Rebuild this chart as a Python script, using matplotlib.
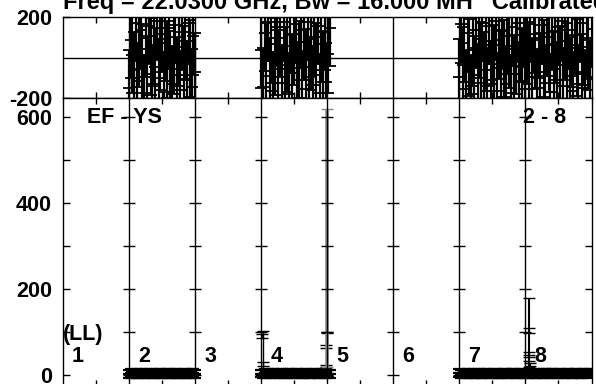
import numpy as np
import matplotlib
matplotlib.use("Agg")
import matplotlib.pyplot as plt

plt.rcParams['font.family'] = ['Liberation Sans', 'DejaVu Sans']
plt.rcParams['font.weight'] = 'bold'

# ---------------- data ----------------
title = "Freq = 22.0300 GHz, Bw = 16.000 MH'  Calibrated"
baseline_label = "EF - YS"
baseline_nums = "2 - 8"
pol_label = "(LL)"
panel_labels = ["1", "2", "3", "4", "5", "6", "7", "8"]

# scan blocks: (start, end) in sub-panel units
block_a_span = (1.0, 2.0)
block_b_span = (3.0, 4.04)
block_c_span = (6.0, 8.0)

phase_a = [-152, 87, 13, -64, 171, -118, 42, 135, -27, -176, 96, -83, 158, 4, -139,
           61, -45, 179, -101, 28, 117, -168, 73, -12, 144, -57, -131, 9, 162, -88,
           51, -160, 126, -34, 83, -109, 168, -3, -147, 104, -71]
phase_b = [38, -144, 121, -19, 175, -92, 66, -163, 7, 149, -55, 94, -127, 173, -38,
           21, -179, 112, -76, 55, 163, -112, -8, 138, -157, 79, -49, 177, -98, 31,
           -134, 102, -22, 157, -173, 69, -61, 128, -119, 16, 146]
phase_c = [-98, 164, -37, 71, -155, 119, 2, -179, 48, -86, 137, -124, 91, -15, 172,
           -63, 25, -142, 156, -109, 60, -31, 178, -167, 84, -52, 131, -7, -133, 107,
           40, -176, 149, -81, 12, 168, -119, 76, -45, 141, -158, 57, -24, 174, -94,
           115, 33, -149, 88, -70, 160, -5, -126, 99, 18, -171, 127, -58, 66, -111,
           152, -36, 179, -141, 81, -18, 134, -89, 46, -164, 109, -2, -129, 170, -74,
           54, -152, 94, 29, -105, 143]
phase_err = 190

amp_a = [3, 5, 2, 4, 6, 3, 2, 5, 4, 3, 6, 2, 4, 5, 3, 2, 4, 6, 3, 5, 2, 4, 3, 5, 6,
         2, 3, 4, 5, 3, 2, 6, 4, 3, 5, 2, 4, 3, 6, 5, 3]
amp_b = [4, 3, 5, 2, 6, 4, 3, 5, 2, 4, 6, 3, 5, 2, 4, 3, 6, 5, 2, 4, 3, 5, 4, 2, 6,
         3, 5, 4, 2, 3, 6, 4, 5, 3, 2, 4, 6, 3, 5, 4, 3]
amp_c = [5, 3, 4, 6, 2, 3, 5, 4, 2, 6, 3, 4, 5, 2, 3, 6, 4, 5, 3, 2, 4, 6, 3, 5, 2,
         4, 3, 6, 5, 2, 3, 4, 6, 5, 3, 2, 4, 5, 3, 6, 4, 2, 5, 3, 4, 6, 2, 3, 5, 4,
         3, 6, 2, 5, 4, 3, 5, 2, 6, 4, 3, 5, 4, 2, 3, 6, 5, 4, 2, 3, 5, 6, 4, 3, 2,
         5, 4, 6, 3, 5, 4]
amp_err = 9

# outlying amplitude points
spike_b_t = [3.015, 3.02, 3.03, 3.985, 3.99, 3.98]
spike_b_amp = [92, 50, 26, 67, 100, 22]
spike_b_err = [5, 52, 4, 4, 1, 3]
spike_big_t = [3.99]
spike_big_amp = [320]
spike_big_err = [300]
spike_c_t = [7.06, 7.055, 7.06, 7.05, 7.065]
spike_c_amp = [100, 104, 50, 38, 25]
spike_c_err = [80, 6, 4, 4, 3]

# ---------------- figure ----------------
W, H = 596, 384
fig = plt.figure(figsize=(W / 100, H / 100), dpi=100)
left, right = 63, 591.5
ax_ph = fig.add_axes([left / W, 1 - 98 / H, (right - left) / W, 81 / H])
ax_am = fig.add_axes([left / W, 1 - 386 / H, (right - left) / W, 288 / H])

nsub = len(panel_labels)
FS = 15.5


def block_times(span, vals):
    return np.linspace(span[0], span[1], len(vals))


ebkw = dict(fmt='none', ecolor='black', elinewidth=1.6, capsize=4.0, capthick=1.3)
ebkw_amp = dict(fmt='none', ecolor='black', elinewidth=2.2, capsize=4.0, capthick=1.6)

# phase panel
for span, vals in [(block_a_span, phase_a), (block_b_span, phase_b), (block_c_span, phase_c)]:
    t = block_times(span, vals)
    ax_ph.errorbar(t, vals, yerr=phase_err, **ebkw)
    ax_ph.plot(t, vals, ls='none', marker='_', ms=9, mew=1.3, color='black')

ax_ph.axhline(0, color='black', lw=1)
for k in range(1, nsub):
    ax_ph.axvline(k, color='black', lw=1)
ax_ph.set_xlim(0, nsub)
ax_ph.set_ylim(-200, 200)
ax_ph.set_yticks([-200, 200])
ax_ph.set_yticklabels(['-200', '200'], fontsize=FS, fontweight='bold')
ax_ph.set_xticks(np.arange(0.5, nsub, 1.0))
ax_ph.set_xticklabels([])
ax_ph.tick_params(axis='x', direction='in', length=4, width=1, top=True, bottom=True)
ax_ph.tick_params(axis='y', direction='in', length=5, width=1, pad=8, left=True, right=False)

# amplitude panel
for span, vals in [(block_a_span, amp_a), (block_b_span, amp_b), (block_c_span, amp_c)]:
    t = block_times(span, vals)
    ax_am.errorbar(t, vals, yerr=amp_err, **ebkw_amp)
    ax_am.plot(t, vals, ls='none', marker='_', ms=9, mew=1.6, color='black')

ax_am.errorbar(spike_b_t, spike_b_amp, yerr=spike_b_err, fmt='none', ecolor='black',
               elinewidth=1.0, capsize=4.0, capthick=1.0)
ax_am.errorbar(spike_big_t, spike_big_amp, yerr=spike_big_err, fmt='none',
               ecolor='#8a8a8a', elinewidth=2.6, capsize=4.0, capthick=1.0)
ax_am.errorbar(spike_c_t, spike_c_amp, yerr=spike_c_err, fmt='none', ecolor='black',
               elinewidth=1.5, capsize=4.0, capthick=1.0)

amp_ticks = np.arange(0, 700, 100)
for k in range(1, nsub):
    ax_am.axvline(k, color='black', lw=1)
    ax_am.plot(np.full(len(amp_ticks), k), amp_ticks, ls='none', marker='_',
               ms=8, mew=1, color='black')

ax_am.set_xlim(0, nsub)
ax_am.set_ylim(-25, 645)
ax_am.set_yticks([0, 200, 400, 600])
ax_am.set_yticklabels(['0', '200', '400', '600'], fontsize=FS, fontweight='bold')
ax_am.set_yticks([100, 300, 500], minor=True)
ax_am.set_xticks(np.arange(0.5, nsub, 1.0))
ax_am.set_xticklabels([])
ax_am.tick_params(axis='x', direction='in', length=4, width=1, top=True, bottom=True)
ax_am.tick_params(axis='y', which='both', direction='in', length=5, width=1, pad=8,
                  left=True, right=True)

for ax in (ax_ph, ax_am):
    for s in ax.spines.values():
        s.set_linewidth(1)

# annotations
ax_am.text(24 / 66, 600, baseline_label, fontsize=FS, fontweight='bold', va='center', ha='left')
ax_am.text(7 - 2 / 66, 600, baseline_nums, fontsize=FS, fontweight='bold', va='center', ha='left')
ax_am.text(0.0, 94, pol_label, fontsize=FS, fontweight='bold', va='center', ha='left')
for i, lab in enumerate(panel_labels):
    ax_am.text(i + 9 / 66, 44, lab, fontsize=FS, fontweight='bold', va='center', ha='left')

fig.text(left / W, 1 - 9 / H, title, fontsize=17, fontweight='bold', va='baseline', ha='left')

fig.savefig('out.png', dpi=100)
